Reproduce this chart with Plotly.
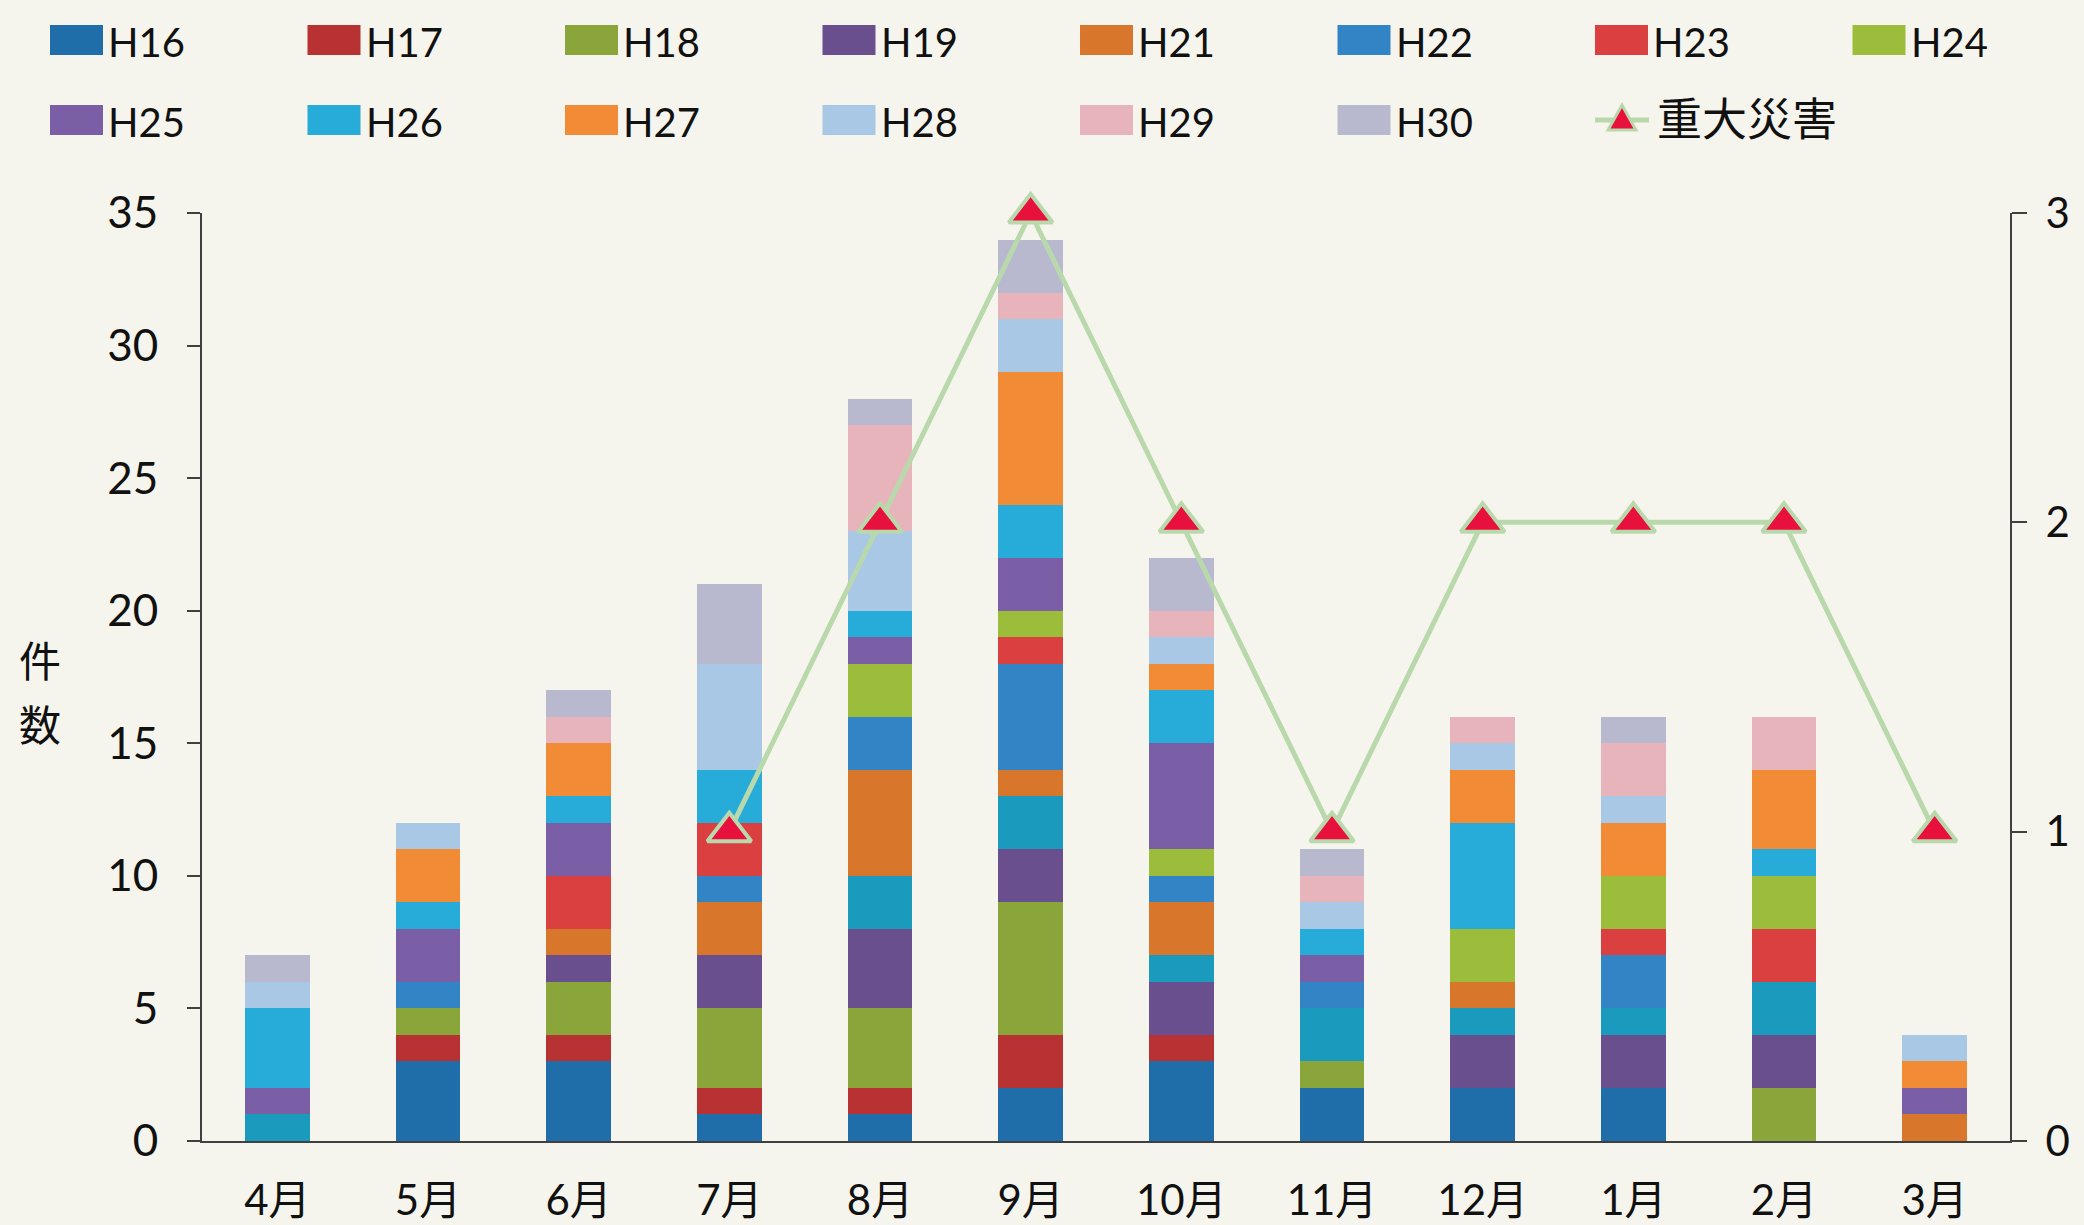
import plotly.graph_objects as go

# Monthly counts by fiscal year of origin (stacked), plus serious accidents
months = ["4月", "5月", "6月", "7月", "8月", "9月", "10月", "11月", "12月", "1月", "2月", "3月"]

h16 = [0, 3, 3, 1, 1, 2, 3, 2, 2, 2, 0, 0]
h17 = [0, 1, 1, 1, 1, 2, 1, 0, 0, 0, 0, 0]
h18 = [0, 1, 2, 3, 3, 5, 0, 1, 0, 0, 2, 0]
h19 = [0, 0, 1, 2, 3, 2, 2, 0, 2, 2, 2, 0]
h20 = [1, 0, 0, 0, 2, 2, 1, 2, 1, 1, 2, 0]
h21 = [0, 0, 1, 2, 4, 1, 2, 0, 1, 0, 0, 1]
h22 = [0, 1, 0, 1, 2, 4, 1, 1, 0, 2, 0, 0]
h23 = [0, 0, 2, 2, 0, 1, 0, 0, 0, 1, 2, 0]
h24 = [0, 0, 0, 0, 2, 1, 1, 0, 2, 2, 2, 0]
h25 = [1, 2, 2, 0, 1, 2, 4, 1, 0, 0, 0, 1]
h26 = [3, 1, 1, 2, 1, 2, 2, 1, 4, 0, 1, 0]
h27 = [0, 2, 2, 0, 0, 5, 1, 0, 2, 2, 3, 1]
h28 = [1, 1, 0, 4, 3, 2, 1, 1, 1, 1, 0, 1]
h29 = [0, 0, 1, 0, 4, 1, 1, 1, 1, 2, 2, 0]
h30 = [1, 0, 1, 3, 1, 2, 2, 1, 0, 1, 0, 0]

serious = [None, None, None, 1, 2, 3, 2, 1, 2, 2, 2, 1]

series_names = ["H16", "H17", "H18", "H19", "H20", "H21", "H22", "H23",
                "H24", "H25", "H26", "H27", "H28", "H29", "H30"]
series_values = [h16, h17, h18, h19, h20, h21, h22, h23,
                 h24, h25, h26, h27, h28, h29, h30]
series_colors = ["#1f6ea9", "#b83234", "#8aa63a", "#6a4f8f", "#1a9bbd",
                 "#d8762c", "#3384c4", "#d9403f", "#9cbd3c", "#7b5fa6",
                 "#27acd9", "#f18b35", "#a9c8e6", "#e8b4bc", "#b8b9cf"]
# H20 has no entry in the key
legend_rows = [["H16", "H17", "H18", "H19", "H21", "H22", "H23", "H24"],
               ["H25", "H26", "H27", "H28", "H29", "H30"]]
line_label = "重大災害"
y_title_chars = ["件", "数"]

W, H = 2084, 1225
PL, PR, PT, PB = 202, 2010, 213, 1141   # plot area in pixels
BG = "#f6f5ed"
AXIS = "#404040"
LINE_GREEN = "#b9d9ac"
TRI_RED = "#e8103c"
LATIN = "Lato, 'Noto Sans CJK JP', sans-serif"
CJK = "'Noto Sans CJK JP', sans-serif"


def px_x(x):
    return (x - PL) / (PR - PL)


def px_y(y):
    return (PB - y) / (PB - PT)


fig = go.Figure()

for name, vals, col in zip(series_names, series_values, series_colors):
    fig.add_trace(go.Bar(x=months, y=vals, name=name,
                         marker=dict(color=col, line=dict(width=0)),
                         showlegend=False))

fig.add_trace(go.Scatter(
    x=months, y=serious, name=line_label, yaxis="y2", mode="lines+markers",
    line=dict(color=LINE_GREEN, width=5),
    marker=dict(symbol="triangle-up", size=38, color=TRI_RED,
                line=dict(color=LINE_GREEN, width=4)),
    cliponaxis=False, showlegend=False))

shapes = []
annotations = []

# key: colour patches with labels, two rows
color_of = dict(zip(series_names, series_colors))
row_y = [40, 120]
step = 257.5
for r, row in enumerate(legend_rows):
    cy = row_y[r]
    for i, name in enumerate(row):
        left = 50 + step * i
        shapes.append(dict(type="rect", xref="paper", yref="paper",
                           x0=px_x(left), x1=px_x(left + 53),
                           y0=px_y(cy + 15), y1=px_y(cy - 15),
                           fillcolor=color_of[name], line=dict(width=0),
                           layer="above"))
        annotations.append(dict(text=name, xref="paper", yref="paper",
                                x=px_x(left + 56), y=px_y(cy + 2),
                                xanchor="left", yanchor="middle",
                                showarrow=False,
                                font=dict(family=LATIN, size=40, color="#111111")))

# key entry for the line series
lx = 50 + step * 6
cy = row_y[1]
shapes.append(dict(type="line", xref="paper", yref="paper",
                   x0=px_x(lx), x1=px_x(lx + 54), y0=px_y(cy), y1=px_y(cy),
                   line=dict(color=LINE_GREEN, width=5), layer="above"))
tx, ty = lx + 27, cy
tri = "M {:.5f} {:.5f} L {:.5f} {:.5f} L {:.5f} {:.5f} Z".format(
    px_x(tx - 14), px_y(ty + 10), px_x(tx + 14), px_y(ty + 10),
    px_x(tx), px_y(ty - 15))
shapes.append(dict(type="path", xref="paper", yref="paper", path=tri,
                   fillcolor=TRI_RED, line=dict(color=LINE_GREEN, width=3),
                   layer="above"))
annotations.append(dict(text=line_label, xref="paper", yref="paper",
                        x=px_x(lx + 60), y=px_y(cy - 4),
                        xanchor="left", yanchor="middle", showarrow=False,
                        font=dict(family=CJK, size=45, color="#111111")))

# vertical axis title, one character per line
for ch, cyy in zip(y_title_chars, [658, 722]):
    annotations.append(dict(text=ch, xref="paper", yref="paper",
                            x=px_x(40), y=px_y(cyy), xanchor="center",
                            yanchor="middle", showarrow=False,
                            font=dict(family=CJK, size=42, color="#111111")))

fig.update_layout(
    width=W, height=H,
    margin=dict(l=PL, r=W - PR, t=PT, b=H - PB, pad=0),
    paper_bgcolor=BG, plot_bgcolor=BG,
    barmode="stack", bargap=0.57,
    showlegend=False,
    shapes=shapes, annotations=annotations,
    xaxis=dict(type="category", range=[-0.5, 11.5], showgrid=False,
               zeroline=False, showline=True, linecolor=AXIS, linewidth=2,
               ticks="", ticklabelstandoff=22, automargin=False,
               tickfont=dict(family=LATIN, size=42, color="#111111")),
    yaxis=dict(range=[0, 35], dtick=5, showgrid=False, zeroline=False,
               showline=True, linecolor=AXIS, linewidth=2,
               ticks="outside", ticklen=13, tickwidth=2, tickcolor=AXIS,
               ticklabelstandoff=20, automargin=False,
               tickfont=dict(family=LATIN, size=44, color="#111111")),
    yaxis2=dict(range=[0, 3], dtick=1, overlaying="y", side="right",
                showgrid=False, zeroline=False,
                showline=True, linecolor=AXIS, linewidth=2,
                ticks="outside", ticklen=15, tickwidth=2, tickcolor=AXIS,
                ticklabelstandoff=10, automargin=False,
                tickfont=dict(family=LATIN, size=42, color="#111111")),
)

fig.write_html("out.html")
